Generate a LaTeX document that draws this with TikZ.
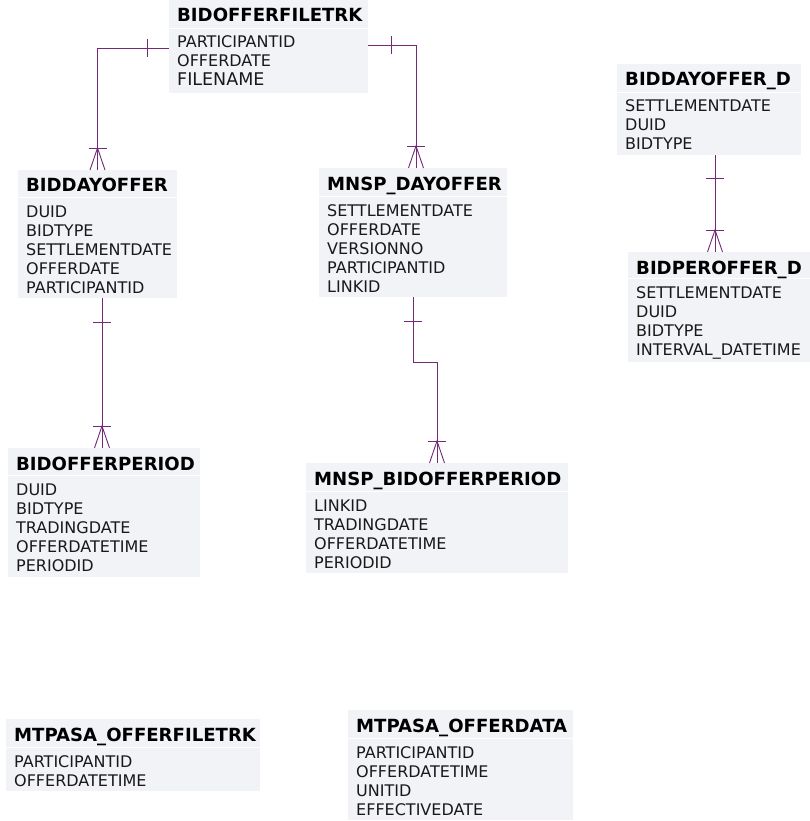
\documentclass[tikz,border=0pt]{standalone}
\usepackage{fontspec}
\setmainfont{DejaVu Sans}
\definecolor{boxfill}{RGB}{242,243,247}
\definecolor{relcol}{RGB}{115,40,120}
\definecolor{fldcol}{RGB}{25,25,25}
\tikzset{
  hdrbox/.style={fill=boxfill, draw=none, inner sep=0pt, outer sep=0pt, anchor=north west},
  bodybox/.style={fill=boxfill, draw=none, inner sep=0pt, outer sep=0pt, anchor=north west},
  ttl/.style={font=\fontsize{18.1}{20}\selectfont\bfseries, inner sep=0pt, anchor=base west, text=black},
  fld/.style={font=\fontsize{16}{19}\selectfont, inner sep=0pt, anchor=base west, text=fldcol},
  rel/.style={draw=relcol, line width=0.9pt},
  tickh/.pic={\draw[rel] (0,-9)--(0,9);},
  tickv/.pic={\draw[rel] (-9,0)--(9,0);},
  crowdown/.pic={\draw[rel] (-9,-22)--(9,-22); \draw[rel] (-7.5,0)--(0,-22)--(7.5,0);}
}
\newcommand\ertable[8]{%
  \node[hdrbox, minimum width={#3-#2}, minimum height={#5-#4}] (#1H) at (#2,#4) {};
  \node[bodybox, minimum width={#3-#2}, minimum height={#6-#5-1}] (#1B) at (#2,#5+1) {};
  \node[ttl] (#1T) at (#2+8,#4+22) {#7};
  \foreach \f [count=\i] in {#8} \node[fld] (#1F\i) at (#2+8,#5+1+19*\i) {\f};
}
\begin{document}
\begin{tikzpicture}[x=1pt,y=-1pt]
\useasboundingbox[fill=white] (0,0) rectangle (810,821);
\ertable{bft}{169}{368}{0}{28}{93}{BIDOFFERFILETRK}{PARTICIPANTID,OFFERDATE,{\fontsize{17.5}{19}\selectfont FILENAME}}
\ertable{bdo}{18}{177}{170}{197}{298}{BIDDAYOFFER}{DUID,BIDTYPE,SETTLEMENTDATE,OFFERDATE,PARTICIPANTID}
\ertable{bop}{8}{200}{448}{475}{577}{BIDOFFERPERIOD}{DUID,BIDTYPE,TRADINGDATE,OFFERDATETIME,PERIODID}
\ertable{mdo}{319}{507}{168}{196}{297}{MNSP\_DAYOFFER}{SETTLEMENTDATE,OFFERDATE,VERSIONNO,PARTICIPANTID,LINKID}
\ertable{mbp}{306}{568}{463}{491}{573}{MNSP\_BIDOFFERPERIOD}{LINKID,TRADINGDATE,OFFERDATETIME,PERIODID}
\ertable{bdd}{617}{801}{64}{92}{155}{BIDDAYOFFER\_D}{SETTLEMENTDATE,DUID,BIDTYPE}
\ertable{bpd}{628}{810}{252}{278}{362}{BIDPEROFFER\_D}{SETTLEMENTDATE,DUID,BIDTYPE,INTERVAL\_DATETIME}
\ertable{mof}{6}{260}{719}{747}{791}{MTPASA\_OFFERFILETRK}{PARTICIPANTID,OFFERDATETIME}
\ertable{mod}{348}{573}{710}{738}{820}{MTPASA\_OFFERDATA}{PARTICIPANTID,OFFERDATETIME,UNITID,EFFECTIVEDATE}

% BIDOFFERFILETRK -> BIDDAYOFFER
\draw[rel] ([yshift=-19pt]bftB.north west) -| (bdoH.north);
\path ([yshift=-19pt]bftB.north west) ++(-22,0) pic{tickh};
\path (bdoH.north) pic{crowdown};
% BIDOFFERFILETRK -> MNSP_DAYOFFER
\draw[rel] ([yshift=-16pt]bftB.north east) -| ([xshift=3pt]mdoH.north);
\path ([yshift=-16pt]bftB.north east) ++(23,0) pic{tickh};
\path ([xshift=3pt]mdoH.north) pic{crowdown};
% BIDDAYOFFER -> BIDOFFERPERIOD
\draw[rel] ([xshift=4.5pt]bdoB.south) -- ([xshift=4.5pt]bdoB.south |- bopH.north);
\path ([xshift=4.5pt]bdoB.south) ++(0,24) pic{tickv};
\path ([xshift=4.5pt]bdoB.south |- bopH.north) pic{crowdown};
% MNSP_DAYOFFER -> MNSP_BIDOFFERPERIOD
\draw[rel] (mdoB.south) -- ++(0,65) -| (mbpH.north);
\path (mdoB.south) ++(0,24) pic{tickv};
\path (mbpH.north) pic{crowdown};
% BIDDAYOFFER_D -> BIDPEROFFER_D
\draw[rel] ([xshift=6pt]bddB.south) -- ([xshift=6pt]bddB.south |- bpdH.north);
\path ([xshift=6pt]bddB.south) ++(0,23) pic{tickv};
\path ([xshift=6pt]bddB.south |- bpdH.north) pic{crowdown};
\end{tikzpicture}
\end{document}
